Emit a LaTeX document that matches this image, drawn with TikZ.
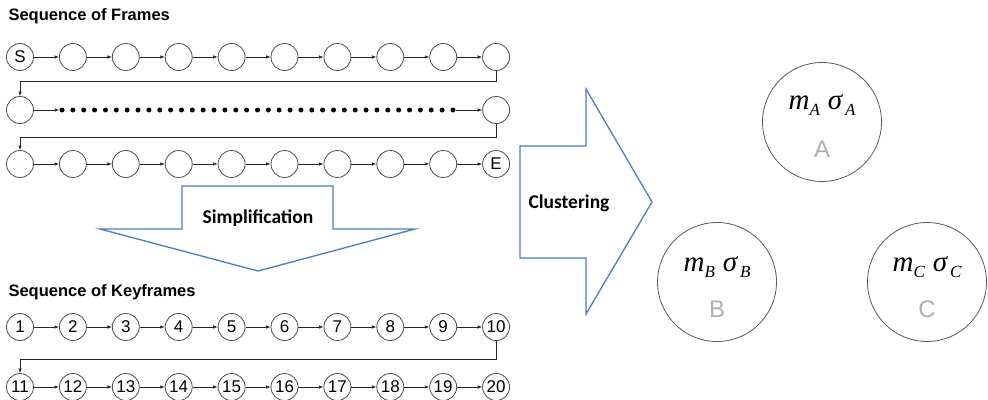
\documentclass[tikz,border=0pt]{standalone}
\usepackage{fontspec}
\setmainfont{Liberation Sans}
\newfontfamily\calib{Carlito}
\newfontfamily\tms{Liberation Serif}
\usetikzlibrary{arrows.meta}
\definecolor{myblue}{RGB}{74,124,192}
\definecolor{cgray}{RGB}{175,175,175}
\newcommand{\msig}[1]{{\tms\itshape\fontsize{29}{29}\selectfont m\raisebox{-6pt}{\fontsize{17}{17}\selectfont #1}\hspace{8pt}σ\raisebox{-6pt}{\fontsize{17}{17}\selectfont\,#1}}}
\begin{document}
\begin{tikzpicture}[x=1pt,y=-1pt,
  fr/.style={circle,draw=black!70,line width=0.8pt,minimum size=27pt,inner sep=0pt,font=\fontsize{17}{17}\selectfont},
  conn/.style={draw=black!85,line width=0.7pt,-{Latex[length=4.5pt,width=3.5pt]}},
  dotn/.style={circle,fill=black,minimum size=5pt,inner sep=0pt},
  barrow/.style={draw=myblue,line width=1.3pt,line join=miter},
  cl/.style={circle,draw=black!65,line width=0.8pt,minimum size=119pt,inner sep=0pt},
  title/.style={anchor=west,font=\bfseries\fontsize{16.5}{16.5}\selectfont},
  lbl/.style={font=\calib\bfseries\fontsize{19.5}{19.5}\selectfont},
  glet/.style={text=cgray,font=\fontsize{24}{24}\selectfont}]
\useasboundingbox (0,0) rectangle (988,399);

% titles
\node[title] (t1) at (5,16) {Sequence of Frames};
\node[title] (t2) at (5,292) {Sequence of Keyframes};

% frames row 1
\foreach \i in {1,...,10} {
  \node[fr] (a\i) at ({20+52.9*(\i-1)},57) {};
}
\node[font=\fontsize{17}{17}\selectfont] at (a1) {S};
\foreach \i [evaluate=\i as \j using int(\i+1)] in {1,...,9} {
  \draw[conn] (a\i) -- (a\j);
}
% frames row 2
\node[fr] (b1) at (20,110) {};
\node[fr] (b2) at (496.1,110) {};
\foreach \k in {1,...,37} {
  \node[dotn] (d\k) at ({62+(\k-1)*10.86},110) {};
}
\draw[conn] (b1) -- (d1);
\draw[conn] (d37) -- (b2);
% frames row 3
\foreach \i in {1,...,10} {
  \node[fr] (c\i) at ({20+52.9*(\i-1)},164) {};
}
\node[font=\fontsize{17}{17}\selectfont] at (c10) {E};
\foreach \i [evaluate=\i as \j using int(\i+1)] in {1,...,9} {
  \draw[conn] (c\i) -- (c\j);
}
\draw[conn] (a10.south) -- ++(0,10) -| (b1.north);
\draw[conn] (b2.south) -- ++(0,13) -| (c1.north);

% keyframes
\foreach \i in {1,...,10} {
  \node[fr] (k\i) at ({20+52.9*(\i-1)},327) {\i};
}
\foreach \i [evaluate=\i as \n using int(\i+10)] in {1,...,10} {
  \node[fr] (k\n) at ({20+52.9*(\i-1)},387) {\n};
}
\foreach \i [evaluate=\i as \j using int(\i+1)] in {1,...,9} {
  \draw[conn] (k\i) -- (k\j);
}
\foreach \i [evaluate=\i as \j using int(\i+1)] in {11,...,19} {
  \draw[conn] (k\i) -- (k\j);
}
\draw[conn] (k10.south) -- ++(0,18) -| (k11.north);

% simplification arrow
\draw[barrow] (182,186) -- (333,186) -- (333,229) -- (415,229) -- (258,271) -- (100,229) -- (182,229) -- cycle;
\node[lbl] (simp) at (258,218) {Simplification};

% clustering arrow
\draw[barrow] (520,146) -- (586,146) -- (586,89) -- (652,202) -- (586,314) -- (586,258) -- (520,258) -- cycle;
\node[lbl] (clus) at (569,203) {Clustering};

% clusters
\node[cl] (A) at (822,122) {};
\node[cl] (B) at (717,282) {};
\node[cl] (C) at (927,282) {};
\node (Af) at (822,105) {\msig{A}};
\node (Bf) at (717,267) {\msig{B}};
\node (Cf) at (927,267) {\msig{C}};
\node[glet] (Al) at (822,149) {A};
\node[glet] (Bl) at (717,309) {B};
\node[glet] (Cl) at (927,309) {C};
\end{tikzpicture}
\end{document}
